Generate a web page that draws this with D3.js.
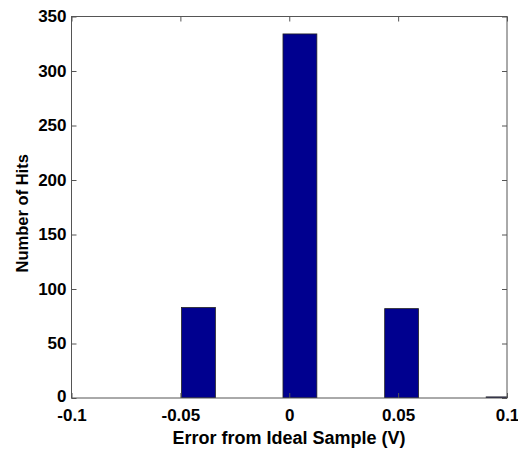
<!DOCTYPE html>
<html>
<head>
<meta charset="utf-8">
<script src="https://cdn.jsdelivr.net/npm/d3@7"></script>
<style>
  html, body { margin: 0; padding: 0; background: #fff; }
  svg { display: block; }
  .tick text { font-family: "Liberation Sans", Arial, sans-serif; font-weight: bold; font-size: 17px; fill: #000; }
  .axis-label { font-family: "Liberation Sans", Arial, sans-serif; font-weight: bold; fill: #000; }
</style>
</head>
<body>
<svg id="chart" width="518" height="449"></svg>
<script>
// Histogram of sample error (10 bins, MATLAB hist style)

const binCenters = [-0.0417, -0.0262, -0.0106, 0.0049, 0.0205, 0.0360, 0.0516, 0.0671, 0.0827, 0.0982];
const binCounts = [83, 0, 0, 334, 0, 0, 82, 0, 0, 1];
const binWidth = 0.01555;

const xTicks = [-0.1, -0.05, 0, 0.05, 0.1];
const xTickLabels = ["-0.1", "-0.05", "0", "0.05", "0.1"];
const yTicks = [0, 50, 100, 150, 200, 250, 300, 350];

const xLabel = "Error from Ideal Sample (V)";
const yLabel = "Number of Hits";

const svg = d3.select("#chart");
const margin = { left: 71.5, right: 11, top: 16.5, bottom: 51 };
const width = 518, height = 449;

const x = d3.scaleLinear().domain([-0.1, 0.1]).range([margin.left, width - margin.right]);
const y = d3.scaleLinear().domain([0, 350]).range([height - margin.bottom, margin.top]);

svg.append("defs").append("clipPath").attr("id", "plot-clip")
  .append("rect")
  .attr("x", x(-0.1)).attr("y", y(350))
  .attr("width", x(0.1) - x(-0.1)).attr("height", y(0) - y(350));

// Bars
svg.append("g")
  .attr("clip-path", "url(#plot-clip)")
  .selectAll("rect")
  .data(binCenters.map((c, i) => ({ c, n: binCounts[i] })).filter((d) => d.n > 0))
  .join("rect")
  .attr("x", (d) => x(d.c - binWidth / 2))
  .attr("width", (d) => x(d.c + binWidth / 2) - x(d.c - binWidth / 2))
  .attr("y", (d) => y(d.n))
  .attr("height", (d) => y(0) - y(d.n))
  .attr("fill", "#00008f")
  .attr("stroke", "#222")
  .attr("stroke-width", 0.8);

const axisColor = "#555";
const tickLen = 5;

// Bottom axis (ticks inside)
const xAxis = svg.append("g")
  .attr("transform", `translate(0,${y(0)})`)
  .call(d3.axisBottom(x).tickValues(xTicks).tickFormat((d, i) => xTickLabels[i]).tickSizeInner(-tickLen).tickSizeOuter(0).tickPadding(8));
xAxis.select(".domain").remove();
xAxis.selectAll(".tick line").attr("stroke", axisColor);
xAxis.selectAll(".tick text").attr("dy", "0.9em");

// Top ticks
const xTop = svg.append("g")
  .attr("transform", `translate(0,${y(350)})`)
  .call(d3.axisTop(x).tickValues(xTicks).tickFormat("").tickSizeInner(-tickLen).tickSizeOuter(0));
xTop.select(".domain").remove();
xTop.selectAll(".tick line").attr("stroke", axisColor);

// Left axis
const yAxis = svg.append("g")
  .attr("transform", `translate(${x(-0.1)},0)`)
  .call(d3.axisLeft(y).tickValues(yTicks).tickSizeInner(-tickLen).tickSizeOuter(0).tickPadding(5));
yAxis.select(".domain").remove();
yAxis.selectAll(".tick line").attr("stroke", axisColor);
// the "0" label sits just above the x tick labels
yAxis.selectAll(".tick text").filter((d) => d === 0).attr("dy", "0.2em");

// Right ticks
const yRight = svg.append("g")
  .attr("transform", `translate(${x(0.1)},0)`)
  .call(d3.axisRight(y).tickValues(yTicks).tickFormat("").tickSizeInner(-tickLen).tickSizeOuter(0));
yRight.select(".domain").remove();
yRight.selectAll(".tick line").attr("stroke", axisColor);

// Box
svg.append("rect")
  .attr("x", x(-0.1)).attr("y", y(350))
  .attr("width", x(0.1) - x(-0.1)).attr("height", y(0) - y(350))
  .attr("fill", "none")
  .attr("stroke", axisColor)
  .attr("stroke-width", 1);

// Axis labels
svg.append("text")
  .attr("class", "axis-label")
  .attr("x", 289)
  .attr("y", 444)
  .attr("text-anchor", "middle")
  .style("font-size", "18px")
  .text(xLabel);

svg.append("text")
  .attr("class", "axis-label")
  .attr("transform", `translate(28,${(y(0) + y(350)) / 2 + 6}) rotate(-90)`)
  .attr("text-anchor", "middle")
  .style("font-size", "16.5px")
  .text(yLabel);
</script>
</body>
</html>
